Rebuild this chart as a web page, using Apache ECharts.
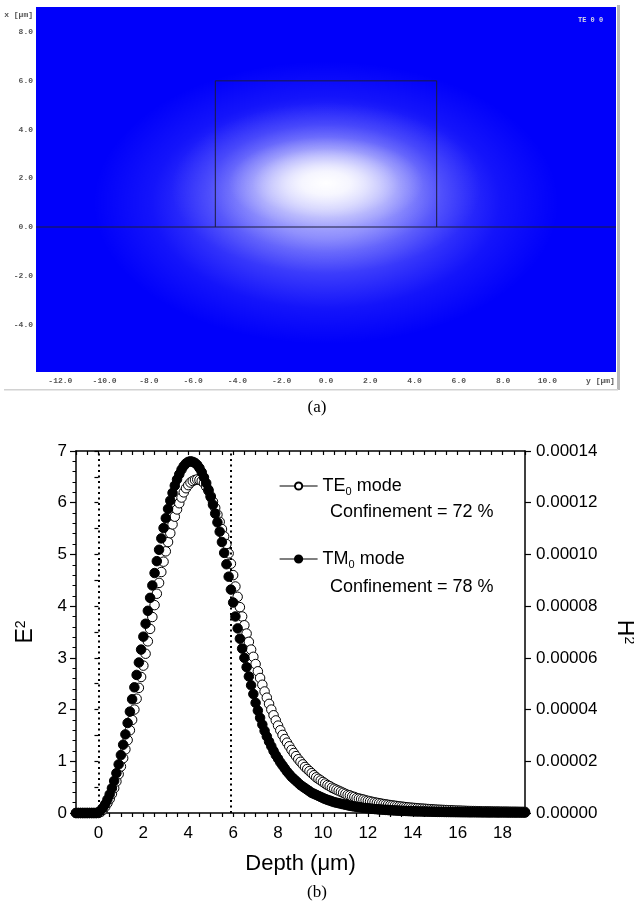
<!DOCTYPE html>
<html lang="en">
<head>
<meta charset="UTF-8">
<title>TE0 / TM0 mode profile</title>
<script src="https://cdn.jsdelivr.net/npm/echarts@6/dist/echarts.min.js"></script>
<style>
    html, body { margin: 0; padding: 0; background: #fff; }
    #chart { width: 634px; height: 906px; }
</style>
</head>
<body>
<div id="chart"></div>
<script>
// ---- panel (a): simulated mode field ----
var mapYTicks = [-12, -10, -8, -6, -4, -2, 0, 2, 4, 6, 8, 10];   // horizontal, y [um]
var mapXTicks = [-4, -2, 0, 2, 4, 6, 8];                         // vertical, x [um]
var fieldCentre = [[0, 1.8]];                                    // field maximum (y, x) in um
var ribOutline = [[-5, 0], [-5, 6], [5, 6], [5, 0]];
var interfaceLine = [[-13.1, 0], [13.1, 0]];

// ---- panel (b): depth profiles ----
var depth = [
    -1.0, -0.9, -0.8, -0.7, -0.6, -0.5, -0.4, -0.3, -0.2, -0.1,
    0.0, 0.1, 0.2, 0.3, 0.4, 0.5, 0.6, 0.7, 0.8, 0.9,
    1.0, 1.1, 1.2, 1.3, 1.4, 1.5, 1.6, 1.7, 1.8, 1.9,
    2.0, 2.1, 2.2, 2.3, 2.4, 2.5, 2.6, 2.7, 2.8, 2.9,
    3.0, 3.1, 3.2, 3.3, 3.4, 3.5, 3.6, 3.7, 3.8, 3.9,
    4.0, 4.1, 4.2, 4.3, 4.4, 4.5, 4.6, 4.7, 4.8, 4.9,
    5.0, 5.1, 5.2, 5.3, 5.4, 5.5, 5.6, 5.7, 5.8, 5.9,
    6.0, 6.1, 6.2, 6.3, 6.4, 6.5, 6.6, 6.7, 6.8, 6.9,
    7.0, 7.1, 7.2, 7.3, 7.4, 7.5, 7.6, 7.7, 7.8, 7.9,
    8.0, 8.1, 8.2, 8.3, 8.4, 8.5, 8.6, 8.7, 8.8, 8.9,
    9.0, 9.1, 9.2, 9.3, 9.4, 9.5, 9.6, 9.7, 9.8, 9.9,
    10.0, 10.1, 10.2, 10.3, 10.4, 10.5, 10.6, 10.7, 10.8, 10.9,
    11.0, 11.1, 11.2, 11.3, 11.4, 11.5, 11.6, 11.7, 11.8, 11.9,
    12.0, 12.1, 12.2, 12.3, 12.4, 12.5, 12.6, 12.7, 12.8, 12.9,
    13.0, 13.1, 13.2, 13.3, 13.4, 13.5, 13.6, 13.7, 13.8, 13.9,
    14.0, 14.1, 14.2, 14.3, 14.4, 14.5, 14.6, 14.7, 14.8, 14.9,
    15.0, 15.1, 15.2, 15.3, 15.4, 15.5, 15.6, 15.7, 15.8, 15.9,
    16.0, 16.1, 16.2, 16.3, 16.4, 16.5, 16.6, 16.7, 16.8, 16.9,
    17.0, 17.1, 17.2, 17.3, 17.4, 17.5, 17.6, 17.7, 17.8, 17.9,
    18.0, 18.1, 18.2, 18.3, 18.4, 18.5, 18.6, 18.7, 18.8, 18.9,
    19.0
];

// TE0, E^2 (left axis)
var teE2 = [
    0, 0, 0, 0, 0, 0, 0, 0, 0, 0,
    0, .02, .06, .12, .19, .27, .37, .48, .61, .75,
    .90, 1.06, 1.23, 1.41, 1.60, 1.80, 2.00, 2.21, 2.42, 2.63,
    2.85, 3.08, 3.32, 3.56, 3.79, 4.02, 4.24, 4.45, 4.66, 4.86,
    5.06, 5.24, 5.41, 5.58, 5.73, 5.87, 5.99, 6.10, 6.20, 6.28,
    6.34, 6.39, 6.42, 6.44, 6.45, 6.44, 6.42, 6.38, 6.31, 6.23,
    6.13, 6.02, 5.90, 5.77, 5.63, 5.49, 5.35, 5.20, 5.02, 4.82,
    4.60, 4.38, 4.18, 3.98, 3.80, 3.63, 3.47, 3.31, 3.16, 3.02,
    2.88, 2.74, 2.61, 2.48, 2.35, 2.23, 2.11, 2.00, 1.89, 1.79,
    1.69, 1.60, 1.51, 1.43, 1.36, 1.29, 1.22, 1.16, 1.10, 1.04,
    .99, .94, .89, .85, .81, .77, .73, .69, .66, .63,
    .60, .57, .54, .52, .49, .47, .45, .43, .41, .39,
    .37, .35, .34, .32, .31, .29, .28, .27, .26, .245,
    .235, .225, .215, .205, .197, .189, .181, .173, .166, .159,
    .152, .146, .140, .134, .128, .123, .118, .113, .108, .104,
    .100, .096, .092, .088, .085, .082, .079, .076, .073, .070,
    .067, .064, .062, .060, .058, .056, .054, .052, .050, .048,
    .046, .045, .043, .042, .040, .039, .038, .037, .036, .035,
    .034, .033, .032, .031, .030, .030, .029, .028, .028, .027,
    .026, .026, .025, .025, .024, .024, .023, .023, .022, .022,
    .021
];

// TM0, H^2 (right axis)
var tmH2 = [
    0, 0, 0, 0, 0, 0, 0, 0, 0, 0,
    .02e-5, .10e-5, .20e-5, .34e-5, .52e-5, .72e-5, .96e-5, 1.24e-5, 1.54e-5, 1.88e-5,
    2.24e-5, 2.64e-5, 3.04e-5, 3.48e-5, 3.92e-5, 4.40e-5, 4.86e-5, 5.34e-5, 5.82e-5, 6.32e-5,
    6.82e-5, 7.32e-5, 7.82e-5, 8.32e-5, 8.80e-5, 9.28e-5, 9.74e-5, 10.18e-5, 10.62e-5, 11.02e-5,
    11.40e-5, 11.76e-5, 12.08e-5, 12.38e-5, 12.66e-5, 12.90e-5, 13.10e-5, 13.28e-5, 13.42e-5, 13.52e-5,
    13.58e-5, 13.60e-5, 13.58e-5, 13.54e-5, 13.46e-5, 13.34e-5, 13.18e-5, 12.98e-5, 12.76e-5, 12.50e-5,
    12.22e-5, 11.92e-5, 11.58e-5, 11.24e-5, 10.88e-5, 10.48e-5, 10.06e-5, 9.62e-5, 9.14e-5, 8.64e-5,
    8.14e-5, 7.60e-5, 7.14e-5, 6.74e-5, 6.36e-5, 6.00e-5, 5.64e-5, 5.28e-5, 4.94e-5, 4.60e-5,
    4.26e-5, 3.96e-5, 3.68e-5, 3.42e-5, 3.18e-5, 2.96e-5, 2.76e-5, 2.58e-5, 2.40e-5, 2.24e-5,
    2.10e-5, 1.96e-5, 1.84e-5, 1.72e-5, 1.60e-5, 1.50e-5, 1.40e-5, 1.32e-5, 1.24e-5, 1.16e-5,
    1.08e-5, 1.02e-5, .96e-5, .90e-5, .84e-5, .78e-5, .74e-5, .70e-5, .66e-5, .62e-5,
    .58e-5, .54e-5, .51e-5, .48e-5, .45e-5, .42e-5, .40e-5, .38e-5, .36e-5, .34e-5,
    .32e-5, .30e-5, .28e-5, .266e-5, .252e-5, .24e-5, .226e-5, .214e-5, .20e-5, .19e-5,
    .18e-5, .17e-5, .162e-5, .154e-5, .146e-5, .138e-5, .132e-5, .126e-5, .12e-5, .114e-5,
    .108e-5, .102e-5, .098e-5, .094e-5, .09e-5, .086e-5, .082e-5, .078e-5, .074e-5, .07e-5,
    .068e-5, .064e-5, .062e-5, .06e-5, .058e-5, .056e-5, .054e-5, .052e-5, .05e-5, .048e-5,
    .046e-5, .044e-5, .042e-5, .042e-5, .04e-5, .038e-5, .038e-5, .036e-5, .036e-5, .034e-5,
    .034e-5, .032e-5, .032e-5, .03e-5, .03e-5, .028e-5, .028e-5, .028e-5, .026e-5, .026e-5,
    .026e-5, .024e-5, .024e-5, .024e-5, .022e-5, .022e-5, .022e-5, .022e-5, .02e-5, .02e-5,
    .02e-5, .02e-5, .02e-5, .018e-5, .018e-5, .018e-5, .018e-5, .018e-5, .016e-5, .016e-5,
    .016e-5
];

var guideDepths = [0, 5.9];   // dotted lines: surface and rib top

var teData = depth.map(function (d, i) { return [d, teE2[i]]; });
var tmData = depth.map(function (d, i) { return [d, tmH2[i]]; });

// glow layers (sizes in um) used to paint the field around its maximum
var glowLayers = [
    { ry: 10.5, rx: 5.8, dx: -0.8, alpha: 0.5 },
    { ry: 7.0, rx: 3.5, dx: -0.2, alpha: 0.62 },
    { ry: 4.4, rx: 1.9, dx: 0, alpha: 1 }
];

function whiteGlow(a) {
    return {
        type: 'radial', x: 0.5, y: 0.5, r: 0.5,
        colorStops: [
            { offset: 0, color: 'rgba(255,255,255,' + a + ')' },
            { offset: 0.25, color: 'rgba(255,255,255,' + (a * 0.85) + ')' },
            { offset: 0.5, color: 'rgba(255,255,255,' + (a * 0.48) + ')' },
            { offset: 0.75, color: 'rgba(255,255,255,' + (a * 0.16) + ')' },
            { offset: 1, color: 'rgba(255,255,255,0)' }
        ]
    };
}

var SANS = '"Liberation Sans", Arial, sans-serif';
var MONO = '"Liberation Mono", "DejaVu Sans Mono", monospace';
var mapLabel = { fontFamily: MONO, fontSize: 8, fontWeight: 'bold', color: '#555' };
var tickLabel = { fontFamily: SANS, fontSize: 17, color: '#000' };
var black = { color: '#000', width: 1.5 };

var chart = echarts.init(document.getElementById('chart'), null, { renderer: 'canvas' });

chart.setOption({
    animation: false,
    backgroundColor: '#fff',
    grid: [
        { left: 36, top: 7, width: 580, height: 365, show: true, backgroundColor: '#0000fa', borderWidth: 0, outerBoundsMode: 'none' },
        { left: 76, top: 451, width: 449, height: 362, outerBoundsMode: 'none' }
    ],
    xAxis: [
        {
            gridIndex: 0, type: 'value', min: -13.1, max: 13.1,
            axisLine: { show: false }, axisTick: { show: false }, splitLine: { show: false },
            axisLabel: Object.assign({
                customValues: mapYTicks.concat([12.4]), margin: 5,
                formatter: function (v) { return v > 11 ? 'y [\u03bcm]' : v.toFixed(1); }
            }, mapLabel)
        },
        {
            gridIndex: 1, type: 'value', min: -1, max: 19, interval: 0.5,
            axisLine: { onZero: false, lineStyle: black },
            axisTick: { length: 4, lineStyle: { color: '#000', width: 1.2 } },
            splitLine: { show: false },
            axisLabel: Object.assign({
                margin: 12,
                formatter: function (v) { return (v >= 0 && v % 2 === 0) ? String(v) : ''; }
            }, tickLabel),
            name: 'Depth (\u03bcm)', nameLocation: 'middle', nameGap: 40, nameMoveOverlap: false,
            nameTextStyle: { fontFamily: SANS, fontSize: 22, color: '#000' }
        },
        {
            gridIndex: 1, type: 'value', position: 'top', min: -1, max: 19, interval: 0.5,
            axisLine: { onZero: false, lineStyle: black },
            axisTick: { inside: true, length: 4, lineStyle: { color: '#000', width: 1.2 } },
            axisLabel: { show: false }, splitLine: { show: false }
        }
    ],
    yAxis: [
        {
            gridIndex: 0, type: 'value', min: -5.95, max: 9.03,
            axisLine: { show: false }, axisTick: { show: false }, splitLine: { show: false },
            axisLabel: Object.assign({
                customValues: mapXTicks.concat([8.7]), margin: 3,
                formatter: function (v) { return v > 8.5 ? 'x [\u03bcm]' : v.toFixed(1); }
            }, mapLabel)
        },
        {
            gridIndex: 1, type: 'value', position: 'left', min: 0, max: 7, interval: 1,
            axisLine: { show: true, onZero: false, lineStyle: black },
            axisTick: { length: 6, lineStyle: { color: '#000', width: 1.2 } },
            minorTick: { show: true, splitNumber: 5, length: 3.5, lineStyle: { color: '#000', width: 1 } },
            splitLine: { show: false },
            axisLabel: Object.assign({ margin: 9 }, tickLabel),
            name: '{e|E}{s|2}', nameLocation: 'middle', nameRotate: 90, nameGap: 39, nameMoveOverlap: false,
            nameTextStyle: {
                color: '#000',
                rich: {
                    e: { fontFamily: SANS, fontSize: 23, color: '#000' },
                    s: { fontFamily: SANS, fontSize: 14, color: '#000', verticalAlign: 'top' }
                }
            }
        },
        {
            gridIndex: 1, type: 'value', position: 'right', min: 0, max: 0.00014, interval: 0.00002,
            axisLine: { show: true, onZero: false, lineStyle: black },
            axisTick: { length: 6, lineStyle: { color: '#000', width: 1.2 } },
            splitLine: { show: false },
            axisLabel: Object.assign({ margin: 11, formatter: function (v) { return v.toFixed(5); } }, tickLabel),
            name: '{e|H}{s|2}', nameLocation: 'middle', nameRotate: -90, nameGap: 88, nameMoveOverlap: false,
            nameTextStyle: {
                color: '#000',
                rich: {
                    e: { fontFamily: SANS, fontSize: 23, color: '#000' },
                    s: { fontFamily: SANS, fontSize: 14, color: '#000', verticalAlign: 'top' }
                }
            }
        },
        {
            gridIndex: 1, type: 'value', position: 'right', min: 0, max: 0.00014, interval: 0.00001,
            axisLine: { show: false },
            axisTick: { inside: true, length: 4, lineStyle: { color: '#000', width: 1.2 } },
            axisLabel: { show: false }, splitLine: { show: false }
        }
    ],
    legend: {
        orient: 'vertical', left: 274, top: 472, itemWidth: 38, itemHeight: 9, itemGap: 53,
        selectedMode: false, data: ['TE0', 'TM0'],
        lineStyle: { color: '#000', width: 1.2, opacity: 1 },
        formatter: function (name) {
            return name === 'TE0' ? '{t|TE}{s|0}{t| mode}' : '{t|TM}{s|0}{t| mode}';
        },
        textStyle: {
            fontFamily: SANS, fontSize: 18, color: '#000',
            rich: {
                t: { fontFamily: SANS, fontSize: 18, color: '#000', lineHeight: 22 },
                s: { fontFamily: SANS, fontSize: 11, color: '#000', verticalAlign: 'bottom', lineHeight: 11 }
            }
        }
    },
    graphic: [
        { type: 'rect', shape: { x: 617, y: 5, width: 3, height: 385 }, style: { fill: '#b8b8b8' }, silent: true },
        { type: 'rect', shape: { x: 4, y: 389, width: 614, height: 1.5 }, style: { fill: '#d2d2d2' }, silent: true },
        { type: 'text', x: 578, y: 17, style: { text: 'TE 0 0', font: 'bold 7px ' + MONO, fill: '#d8d8e4' }, silent: true },
        { type: 'text', x: 317, y: 408, style: { text: '(a)', font: '17px "Liberation Serif", serif', fill: '#000', align: 'center', verticalAlign: 'middle' } },
        { type: 'text', x: 317, y: 893, style: { text: '(b)', font: '17px "Liberation Serif", serif', fill: '#000', align: 'center', verticalAlign: 'middle' } },
        { type: 'text', x: 330, y: 512, style: { text: 'Confinement = 72 %', font: '18px ' + SANS, fill: '#000', verticalAlign: 'middle' } },
        { type: 'text', x: 330, y: 587, style: { text: 'Confinement = 78 %', font: '18px ' + SANS, fill: '#000', verticalAlign: 'middle' } }
    ],
    series: [
        {
            type: 'custom', name: 'field', xAxisIndex: 0, yAxisIndex: 0, silent: true,
            data: fieldCentre,
            renderItem: function (params, api) {
                var cy = api.value(0), cx = api.value(1);
                return {
                    type: 'group',
                    children: glowLayers.map(function (g) {
                        var p = api.coord([cy, cx + g.dx]);
                        var s = api.size([g.ry, g.rx]);
                        return {
                            type: 'circle', x: p[0], y: p[1], scaleX: s[0] / s[1],
                            shape: { cx: 0, cy: 0, r: s[1] },
                            style: { fill: whiteGlow(g.alpha) }
                        };
                    })
                };
            }
        },
        {
            type: 'line', name: 'rib', xAxisIndex: 0, yAxisIndex: 0, data: ribOutline,
            showSymbol: false, silent: true, lineStyle: { color: '#1c1c3c', width: 1 }
        },
        {
            type: 'line', name: 'interface', xAxisIndex: 0, yAxisIndex: 0, data: interfaceLine,
            showSymbol: false, silent: true, lineStyle: { color: '#1c1c3c', width: 1.2 }
        },
        {
            type: 'line', name: 'TE0', xAxisIndex: 1, yAxisIndex: 1, data: teData,
            symbol: 'circle', symbolSize: 9.5, showSymbol: true, showAllSymbol: true,
            lineStyle: { width: 0 },
            itemStyle: { color: '#fff', borderColor: '#000', borderWidth: 1 },
            markLine: {
                silent: true, symbol: ['none', 'none'], label: { show: false },
                lineStyle: { type: [2, 3.5], color: '#000', width: 2 },
                data: guideDepths.map(function (d) { return { xAxis: d }; })
            }
        },
        {
            type: 'line', name: 'TM0', xAxisIndex: 1, yAxisIndex: 2, data: tmData,
            symbol: 'circle', symbolSize: 9.5, showSymbol: true, showAllSymbol: true,
            lineStyle: { width: 0 },
            itemStyle: { color: '#000', borderColor: '#000', borderWidth: 1 }
        }
    ]
});
</script>
</body>
</html>
